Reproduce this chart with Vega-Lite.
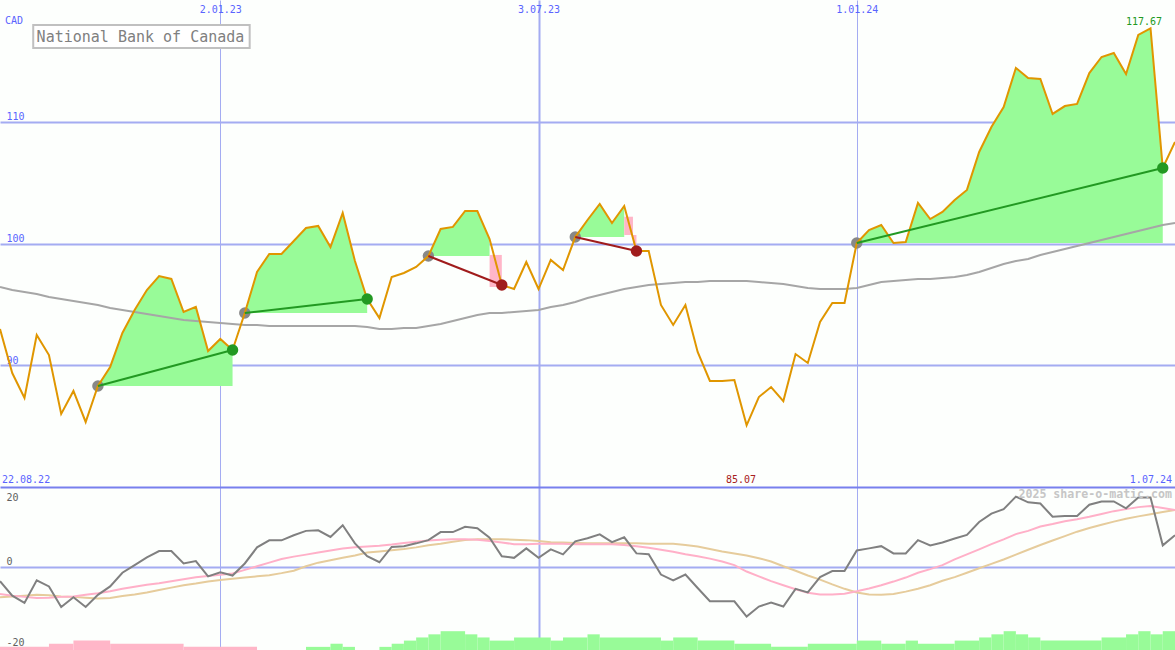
{
"$schema": "https://vega.github.io/schema/vega-lite/v6.json",
"background": "#fdfffd",
"padding": 0,
"spacing": 0,
"config": {"view": {"stroke": null}, "font": "DejaVu Sans Mono"},
"resolve": {"scale": {"x": "independent", "y": "independent", "color": "independent"}},
"datasets": {
"w": [
{"d":"2022-08-29","p":92.98,"ma":96.43,"m":-3.4,"pk":-6.6,"tn":-7.4},
{"d":"2022-09-05","p":89.36,"ma":96.18,"m":-7.0,"pk":-7.0,"tn":-7.2},
{"d":"2022-09-12","p":87.31,"ma":96.02,"m":-8.8,"pk":-7.3,"tn":-7.0},
{"d":"2022-09-19","p":92.48,"ma":95.85,"m":-3.2,"pk":-7.6,"tn":-6.8},
{"d":"2022-09-26","p":90.84,"ma":95.61,"m":-4.7,"pk":-7.5,"tn":-6.9},
{"d":"2022-10-03","p":86.00,"ma":95.44,"m":-9.8,"pk":-7.3,"tn":-7.2},
{"d":"2022-10-10","p":87.89,"ma":95.28,"m":-7.4,"pk":-7.2,"tn":-7.3},
{"d":"2022-10-17","p":85.34,"ma":95.11,"m":-9.8,"pk":-6.8,"tn":-7.5},
{"d":"2022-10-24","p":88.30,"ma":94.95,"m":-6.8,"pk":-6.4,"tn":-7.7,"tr":1,"b":88.30},
{"d":"2022-10-31","p":89.86,"ma":94.70,"m":-4.7,"pk":-5.9,"tn":-7.6,"tr":1,"b":88.30},
{"d":"2022-11-07","p":92.65,"ma":94.54,"m":-1.3,"pk":-5.3,"tn":-7.1,"tr":1,"b":88.30},
{"d":"2022-11-14","p":94.54,"ma":94.37,"m":0.6,"pk":-4.8,"tn":-6.7,"tr":1,"b":88.30},
{"d":"2022-11-21","p":96.18,"ma":94.21,"m":2.5,"pk":-4.3,"tn":-6.2,"tr":1,"b":88.30},
{"d":"2022-11-28","p":97.33,"ma":94.05,"m":4.1,"pk":-3.9,"tn":-5.6,"tr":1,"b":88.30},
{"d":"2022-12-05","p":97.09,"ma":93.88,"m":4.1,"pk":-3.4,"tn":-5.0,"tr":1,"b":88.30},
{"d":"2022-12-12","p":94.37,"ma":93.72,"m":1.0,"pk":-2.9,"tn":-4.4,"tr":1,"b":88.30},
{"d":"2022-12-19","p":94.79,"ma":93.63,"m":1.6,"pk":-2.4,"tn":-4.0,"tr":1,"b":88.30},
{"d":"2022-12-26","p":91.17,"ma":93.55,"m":-2.2,"pk":-2.1,"tn":-3.5,"tr":1,"b":88.30},
{"d":"2023-01-02","p":92.16,"ma":93.47,"m":-1.2,"pk":-1.8,"tn":-3.1,"tr":1,"b":88.30},
{"d":"2023-01-09","p":91.25,"ma":93.39,"m":-2.0,"pk":-1.5,"tn":-2.8,"tr":1,"b":88.30},
{"d":"2023-01-16","p":94.29,"ma":93.31,"m":1.0,"pk":-0.6,"tn":-2.5,"tr":2,"b":94.29},
{"d":"2023-01-23","p":97.66,"ma":93.31,"m":5.0,"pk":0.3,"tn":-2.2,"tr":2,"b":94.29},
{"d":"2023-01-30","p":99.14,"ma":93.22,"m":6.75,"pk":1.2,"tn":-1.9,"tr":2,"b":94.29},
{"d":"2023-02-06","p":99.14,"ma":93.22,"m":6.75,"pk":2.1,"tn":-1.4,"tr":2,"b":94.29},
{"d":"2023-02-13","p":100.21,"ma":93.22,"m":8.0,"pk":2.7,"tn":-0.8,"tr":2,"b":94.29},
{"d":"2023-02-20","p":101.27,"ma":93.22,"m":9.1,"pk":3.2,"tn":0.3,"tr":2,"b":94.29},
{"d":"2023-02-27","p":101.44,"ma":93.22,"m":9.25,"pk":3.7,"tn":1.2,"tr":2,"b":94.29},
{"d":"2023-03-06","p":99.71,"ma":93.22,"m":7.6,"pk":4.2,"tn":1.8,"tr":2,"b":94.29},
{"d":"2023-03-13","p":102.51,"ma":93.22,"m":10.5,"pk":4.7,"tn":2.4,"tr":2,"b":94.29},
{"d":"2023-03-20","p":98.56,"ma":93.22,"m":6.0,"pk":5.0,"tn":3.0,"tr":2,"b":94.29},
{"d":"2023-03-27","p":95.44,"ma":93.14,"m":2.8,"pk":5.2,"tn":3.7,"tr":2,"b":94.29},
{"d":"2023-04-03","p":93.88,"ma":92.98,"m":1.3,"pk":5.4,"tn":4.0},
{"d":"2023-04-10","p":97.25,"ma":92.98,"m":5.1,"pk":5.7,"tn":4.3},
{"d":"2023-04-17","p":97.58,"ma":93.06,"m":5.3,"pk":6.1,"tn":4.6},
{"d":"2023-04-24","p":98.07,"ma":93.06,"m":6.0,"pk":6.4,"tn":5.0},
{"d":"2023-05-01","p":98.97,"ma":93.22,"m":6.8,"pk":6.7,"tn":5.5,"tr":3,"b":98.97},
{"d":"2023-05-08","p":101.19,"ma":93.39,"m":8.8,"pk":6.9,"tn":5.9,"tr":3,"b":98.97},
{"d":"2023-05-15","p":101.36,"ma":93.63,"m":8.8,"pk":7.0,"tn":6.4,"tr":3,"b":98.97},
{"d":"2023-05-22","p":102.67,"ma":93.88,"m":10.1,"pk":7.0,"tn":6.8,"tr":3,"b":98.97},
{"d":"2023-05-29","p":102.67,"ma":94.13,"m":9.75,"pk":6.9,"tn":7.0,"tr":3,"b":98.97},
{"d":"2023-06-05","p":100.37,"ma":94.29,"m":7.4,"pk":6.6,"tn":7.0,"tr":3,"b":98.97},
{"d":"2023-06-12","p":96.59,"ma":94.29,"m":2.8,"pk":6.2,"tn":7.0},
{"d":"2023-06-19","p":96.26,"ma":94.37,"m":2.4,"pk":5.8,"tn":6.9},
{"d":"2023-06-26","p":98.48,"ma":94.46,"m":4.75,"pk":5.8,"tn":6.8},
{"d":"2023-07-03","p":96.26,"ma":94.54,"m":2.4,"pk":5.9,"tn":6.6},
{"d":"2023-07-10","p":98.65,"ma":94.78,"m":4.5,"pk":5.9,"tn":6.3},
{"d":"2023-07-17","p":97.82,"ma":94.95,"m":3.25,"pk":5.9,"tn":6.2},
{"d":"2023-07-24","p":100.53,"ma":95.20,"m":6.5,"pk":5.8,"tn":6.1,"tr":4,"b":100.53},
{"d":"2023-07-31","p":101.93,"ma":95.52,"m":7.25,"pk":5.8,"tn":6.0,"tr":4,"b":100.53},
{"d":"2023-08-07","p":103.25,"ma":95.77,"m":8.25,"pk":5.8,"tn":6.0,"tr":4,"b":100.53},
{"d":"2023-08-14","p":101.68,"ma":96.02,"m":6.3,"pk":5.8,"tn":6.0,"tr":4,"b":100.53},
{"d":"2023-08-21","p":103.08,"ma":96.26,"m":7.5,"pk":5.6,"tn":6.0,"tr":4,"b":100.53},
{"d":"2023-08-28","p":99.38,"ma":96.43,"m":3.5,"pk":5.3,"tn":6.0},
{"d":"2023-09-04","p":99.38,"ma":96.59,"m":3.3,"pk":4.9,"tn":5.9},
{"d":"2023-09-11","p":94.95,"ma":96.67,"m":-1.75,"pk":4.4,"tn":5.9},
{"d":"2023-09-18","p":93.31,"ma":96.76,"m":-3.2,"pk":3.9,"tn":5.9},
{"d":"2023-09-25","p":94.95,"ma":96.84,"m":-1.75,"pk":3.3,"tn":5.6},
{"d":"2023-10-02","p":91.09,"ma":96.84,"m":-5.1,"pk":2.8,"tn":5.2},
{"d":"2023-10-09","p":88.71,"ma":96.92,"m":-8.4,"pk":2.2,"tn":4.6},
{"d":"2023-10-16","p":88.71,"ma":96.92,"m":-8.4,"pk":1.5,"tn":4.0},
{"d":"2023-10-23","p":88.79,"ma":96.92,"m":-8.4,"pk":0.6,"tn":3.5},
{"d":"2023-10-30","p":85.07,"ma":96.92,"m":-12.2,"pk":-1.0,"tn":3.0},
{"d":"2023-11-06","p":87.39,"ma":96.84,"m":-9.7,"pk":-2.2,"tn":2.3},
{"d":"2023-11-13","p":88.21,"ma":96.76,"m":-8.7,"pk":-3.4,"tn":1.5},
{"d":"2023-11-20","p":87.06,"ma":96.67,"m":-9.7,"pk":-4.4,"tn":0.3},
{"d":"2023-11-27","p":90.92,"ma":96.51,"m":-5.3,"pk":-5.4,"tn":-0.8},
{"d":"2023-12-04","p":90.19,"ma":96.35,"m":-6.2,"pk":-6.3,"tn":-2.0},
{"d":"2023-12-11","p":93.55,"ma":96.26,"m":-2.4,"pk":-6.7,"tn":-3.0},
{"d":"2023-12-18","p":95.11,"ma":96.26,"m":-0.9,"pk":-6.7,"tn":-4.2},
{"d":"2023-12-25","p":95.11,"ma":96.26,"m":-0.9,"pk":-6.5,"tn":-5.3},
{"d":"2024-01-01","p":100.04,"ma":96.35,"m":4.25,"pk":-5.9,"tn":-6.2,"tr":5,"b":100.04},
{"d":"2024-01-08","p":101.11,"ma":96.59,"m":4.75,"pk":-5.2,"tn":-6.7,"tr":5,"b":100.04},
{"d":"2024-01-15","p":101.52,"ma":96.84,"m":5.3,"pk":-4.4,"tn":-6.8,"tr":5,"b":100.04},
{"d":"2024-01-22","p":100.04,"ma":96.92,"m":3.5,"pk":-3.5,"tn":-6.6,"tr":5,"b":100.04},
{"d":"2024-01-29","p":100.12,"ma":97.00,"m":3.5,"pk":-2.5,"tn":-6.0,"tr":5,"b":100.04},
{"d":"2024-02-05","p":103.33,"ma":97.08,"m":6.8,"pk":-1.3,"tn":-5.3,"tr":5,"b":100.04},
{"d":"2024-02-12","p":102.01,"ma":97.08,"m":5.5,"pk":-0.4,"tn":-4.4,"tr":5,"b":100.04},
{"d":"2024-02-19","p":102.59,"ma":97.17,"m":6.2,"pk":0.6,"tn":-3.3,"tr":5,"b":100.04},
{"d":"2024-02-26","p":103.57,"ma":97.25,"m":7.2,"pk":2.0,"tn":-2.4,"tr":5,"b":100.04},
{"d":"2024-03-04","p":104.40,"ma":97.41,"m":8.1,"pk":3.25,"tn":-1.3,"tr":5,"b":100.04},
{"d":"2024-03-11","p":107.52,"ma":97.66,"m":11.3,"pk":4.5,"tn":-0.2,"tr":5,"b":100.04},
{"d":"2024-03-18","p":109.57,"ma":97.99,"m":13.4,"pk":5.8,"tn":0.9,"tr":5,"b":100.04},
{"d":"2024-03-25","p":111.21,"ma":98.32,"m":14.5,"pk":7.0,"tn":2.0,"tr":5,"b":100.04},
{"d":"2024-04-01","p":114.42,"ma":98.56,"m":17.6,"pk":8.3,"tn":3.2,"tr":5,"b":100.04},
{"d":"2024-04-08","p":113.59,"ma":98.73,"m":16.2,"pk":9.1,"tn":4.4,"tr":5,"b":100.04},
{"d":"2024-04-15","p":113.51,"ma":99.06,"m":15.9,"pk":10.2,"tn":5.6,"tr":5,"b":100.04},
{"d":"2024-04-22","p":110.64,"ma":99.30,"m":12.6,"pk":10.8,"tn":6.7,"tr":5,"b":100.04},
{"d":"2024-04-29","p":111.29,"ma":99.55,"m":12.8,"pk":11.5,"tn":7.8,"tr":5,"b":100.04},
{"d":"2024-05-06","p":111.46,"ma":99.80,"m":12.8,"pk":12.0,"tn":8.9,"tr":5,"b":100.04},
{"d":"2024-05-13","p":114.00,"ma":100.04,"m":15.6,"pk":12.6,"tn":9.8,"tr":5,"b":100.04},
{"d":"2024-05-20","p":115.32,"ma":100.29,"m":16.4,"pk":13.3,"tn":10.6,"tr":5,"b":100.04},
{"d":"2024-05-27","p":115.65,"ma":100.53,"m":16.4,"pk":14.0,"tn":11.4,"tr":5,"b":100.04},
{"d":"2024-06-03","p":113.92,"ma":100.78,"m":14.7,"pk":14.5,"tn":12.1,"tr":5,"b":100.04},
{"d":"2024-06-10","p":117.13,"ma":101.03,"m":17.4,"pk":15.0,"tn":12.7,"tr":5,"b":100.04},
{"d":"2024-06-17","p":117.67,"ma":101.27,"m":17.4,"pk":15.3,"tn":13.25,"tr":5,"b":100.04},
{"d":"2024-06-24","p":106.20,"ma":101.52,"m":5.5,"pk":14.8,"tn":13.8,"tr":5,"b":100.04},
{"d":"2024-07-01","p":108.34,"ma":101.68,"m":8.0,"pk":14.3,"tn":14.3}
],
"trades": [
{"d1":"2022-10-24","p1":88.30,"d2":"2023-01-09","p2":91.25,"res":"win"},
{"d1":"2023-01-16","p1":94.29,"d2":"2023-03-27","p2":95.44,"res":"win"},
{"d1":"2023-05-01","p1":98.97,"d2":"2023-06-12","p2":96.59,"res":"loss"},
{"d1":"2023-07-24","p1":100.53,"d2":"2023-08-28","p2":99.38,"res":"loss"},
{"d1":"2024-01-01","p1":100.04,"d2":"2024-06-24","p2":106.20,"res":"win"}
],
"pink": [
{"s":"2023-06-05","e":"2023-06-12","hi":99.06,"lo":96.43},
{"s":"2023-08-21","e":"2023-08-26","hi":102.2,"lo":100.7},
{"s":"2023-08-26","e":"2023-08-28","hi":100.7,"lo":99.9}
],
"bars": [
{"s":"2022-08-29","e":"2022-09-26","h":1,"c":"n"},
{"s":"2022-09-26","e":"2022-10-10","h":2,"c":"n"},
{"s":"2022-10-10","e":"2022-10-31","h":3,"c":"n"},
{"s":"2022-10-31","e":"2022-12-12","h":2,"c":"n"},
{"s":"2022-12-12","e":"2023-01-23","h":1,"c":"n"},
{"s":"2023-02-20","e":"2023-03-06","h":1,"c":"p"},
{"s":"2023-03-06","e":"2023-03-13","h":2,"c":"p"},
{"s":"2023-03-13","e":"2023-03-20","h":1,"c":"p"},
{"s":"2023-04-03","e":"2023-04-10","h":1,"c":"p"},
{"s":"2023-04-10","e":"2023-04-17","h":2,"c":"p"},
{"s":"2023-04-17","e":"2023-04-24","h":3,"c":"p"},
{"s":"2023-04-24","e":"2023-05-01","h":4,"c":"p"},
{"s":"2023-05-01","e":"2023-05-08","h":5,"c":"p"},
{"s":"2023-05-08","e":"2023-05-22","h":6,"c":"p"},
{"s":"2023-05-22","e":"2023-05-29","h":5,"c":"p"},
{"s":"2023-05-29","e":"2023-06-05","h":4,"c":"p"},
{"s":"2023-06-05","e":"2023-06-19","h":3,"c":"p"},
{"s":"2023-06-19","e":"2023-07-10","h":4,"c":"p"},
{"s":"2023-07-10","e":"2023-07-17","h":3,"c":"p"},
{"s":"2023-07-17","e":"2023-07-31","h":4,"c":"p"},
{"s":"2023-07-31","e":"2023-08-07","h":5,"c":"p"},
{"s":"2023-08-07","e":"2023-09-11","h":4,"c":"p"},
{"s":"2023-09-11","e":"2023-09-18","h":3,"c":"p"},
{"s":"2023-09-18","e":"2023-10-02","h":4,"c":"p"},
{"s":"2023-10-02","e":"2023-10-23","h":3,"c":"p"},
{"s":"2023-10-23","e":"2023-11-13","h":2,"c":"p"},
{"s":"2023-11-13","e":"2023-12-04","h":1,"c":"p"},
{"s":"2023-12-04","e":"2024-01-01","h":2,"c":"p"},
{"s":"2024-01-01","e":"2024-01-15","h":3,"c":"p"},
{"s":"2024-01-15","e":"2024-01-29","h":2,"c":"p"},
{"s":"2024-01-29","e":"2024-02-05","h":3,"c":"p"},
{"s":"2024-02-05","e":"2024-02-26","h":2,"c":"p"},
{"s":"2024-02-26","e":"2024-03-11","h":3,"c":"p"},
{"s":"2024-03-11","e":"2024-03-18","h":4,"c":"p"},
{"s":"2024-03-18","e":"2024-03-25","h":5,"c":"p"},
{"s":"2024-03-25","e":"2024-04-01","h":6,"c":"p"},
{"s":"2024-04-01","e":"2024-04-08","h":5,"c":"p"},
{"s":"2024-04-08","e":"2024-04-15","h":4,"c":"p"},
{"s":"2024-04-15","e":"2024-05-20","h":3,"c":"p"},
{"s":"2024-05-20","e":"2024-06-03","h":4,"c":"p"},
{"s":"2024-06-03","e":"2024-06-10","h":5,"c":"p"},
{"s":"2024-06-10","e":"2024-06-17","h":6,"c":"p"},
{"s":"2024-06-17","e":"2024-06-24","h":5,"c":"p"},
{"s":"2024-06-24","e":"2024-07-08","h":6,"c":"p"}
]
},
"vconcat": [
{
"width": 1175, "height": 487,
"layer": [
{"data": {"name": "w"}, "transform": [{"filter": "isValid(datum.tr)"}],
 "mark": {"type": "area", "color": "#98fb98", "opacity": 1, "clip": true},
 "encoding": {
  "x": {"field": "d", "type": "temporal", "title": null, "scale": {"type": "utc", "domain": [{"year":2022,"month":8,"date":29,"utc":true},{"year":2024,"month":7,"date":1,"utc":true}]},
   "axis": {"orient": "top", "values": [{"year":2023,"month":1,"date":2,"utc":true},{"year":2023,"month":7,"date":3,"utc":true},{"year":2024,"month":1,"date":1,"utc":true}], "grid": true, "gridColor": "#a4acf2", "gridWidth": {"condition": {"test": "utcmonth(datum.value) == 6", "value": 2}, "value": 1}, "domain": false, "ticks": false, "labelExpr": "utcFormat(datum.value, '%-d.%m.%y')", "labelColor": "#5a64ff", "labelFont": "DejaVu Sans Mono", "labelFontSize": 10, "labelPadding": -12, "labelBaseline": "alphabetic", "labelFlush": false}},
  "y": {"field": "p", "type": "quantitative", "title": null, "scale": {"domain": [80, 120], "nice": false, "zero": false},
   "axis": {"orient": "left", "values": [90, 100, 110], "grid": true, "gridColor": "#a4acf2", "gridWidth": 2, "domain": false, "ticks": false, "labelAlign": "left", "labelBaseline": "alphabetic", "labelPadding": -6, "labelOffset": -2, "labelColor": "#5a64ff", "labelFont": "DejaVu Sans Mono", "labelFontSize": 10}},
  "y2": {"field": "b"},
  "detail": {"field": "tr", "type": "nominal"}
 }},
{"data": {"name": "pink"}, "mark": {"type": "rect", "color": "#ffb6c8"},
 "encoding": {
  "x": {"field": "s", "type": "temporal", "title": null},
  "x2": {"field": "e"},
  "y": {"field": "hi", "type": "quantitative", "title": null},
  "y2": {"field": "lo"}
 }},
{"data": {"name": "w"}, "mark": {"type": "line", "color": "#a6a6a6", "strokeWidth": 2, "clip": true},
 "encoding": {
  "x": {"field": "d", "type": "temporal", "title": null},
  "y": {"field": "ma", "type": "quantitative", "title": null}
 }},
{"data": {"name": "trades"}, "mark": {"type": "point", "filled": true, "shape": "circle", "color": "#888888", "size": 130, "opacity": 1},
 "encoding": {
  "x": {"field": "d1", "type": "temporal", "title": null},
  "y": {"field": "p1", "type": "quantitative", "title": null}
 }},
{"data": {"name": "w"}, "mark": {"type": "line", "color": "#e09600", "strokeWidth": 2, "clip": true},
 "encoding": {
  "x": {"field": "d", "type": "temporal", "title": null},
  "y": {"field": "p", "type": "quantitative", "title": null}
 }},
{"data": {"name": "trades"}, "mark": {"type": "rule", "strokeWidth": 2},
 "encoding": {
  "x": {"field": "d1", "type": "temporal", "title": null},
  "x2": {"field": "d2"},
  "y": {"field": "p1", "type": "quantitative", "title": null},
  "y2": {"field": "p2"},
  "color": {"field": "res", "type": "nominal", "scale": {"domain": ["win", "loss"], "range": ["#229922", "#a01c1c"]}, "legend": null}
 }},
{"data": {"name": "trades"}, "mark": {"type": "point", "filled": true, "shape": "circle", "size": 130, "opacity": 1},
 "encoding": {
  "x": {"field": "d2", "type": "temporal", "title": null},
  "y": {"field": "p2", "type": "quantitative", "title": null},
  "color": {"field": "res", "type": "nominal", "legend": null}
 }},
{"data": {"values": [{}]}, "mark": {"type": "text", "text": "CAD", "align": "left", "baseline": "top", "dx": 5, "dy": 16, "fontSize": 10, "font": "DejaVu Sans Mono", "color": "#5a64ff"},
 "encoding": {
  "x": {"datum": {"year":2022,"month":8,"date":29,"utc":true}, "type": "temporal"},
  "y": {"datum": 120, "type": "quantitative"}
 }},
{"data": {"values": [{}]}, "mark": {"type": "rect", "fill": "#ffffff", "stroke": "#c0c0c0", "strokeWidth": 2},
 "encoding": {
  "x": {"datum": {"year":2022,"month":9,"date":17,"utc":true}, "type": "temporal"},
  "x2": {"datum": {"year":2023,"month":1,"date":18,"hours":19,"utc":true}},
  "y": {"datum": 117.95, "type": "quantitative"},
  "y2": {"datum": 116.06}
 }},
{"data": {"values": [{}]}, "mark": {"type": "text", "text": "National Bank of Canada", "align": "center", "baseline": "middle", "fontSize": 15, "font": "DejaVu Sans Mono", "color": "#808080"},
 "encoding": {
  "x": {"datum": {"year":2022,"month":11,"date":17,"hours":8,"utc":true}, "type": "temporal"},
  "y": {"datum": 117.0, "type": "quantitative"}
 }},
{"data": {"values": [{}]}, "mark": {"type": "text", "text": "117.67", "align": "center", "baseline": "alphabetic", "dy": -3, "fontSize": 10, "font": "DejaVu Sans Mono", "color": "#229922"},
 "encoding": {
  "x": {"datum": {"year":2024,"month":6,"date":13,"hours":7,"utc":true}, "type": "temporal"},
  "y": {"datum": 117.67, "type": "quantitative"}
 }},
{"data": {"values": [{}]}, "mark": {"type": "text", "text": "85.07", "align": "center", "baseline": "alphabetic", "dy": -4, "fontSize": 10, "font": "DejaVu Sans Mono", "color": "#a82020"},
 "encoding": {
  "x": {"datum": {"year":2023,"month":10,"date":26,"hours":19,"utc":true}, "type": "temporal"},
  "y": {"datum": 80, "type": "quantitative"}
 }},
{"data": {"values": [{}]}, "mark": {"type": "text", "text": "22.08.22", "align": "left", "baseline": "alphabetic", "dx": 2, "dy": -4, "fontSize": 10, "font": "DejaVu Sans Mono", "color": "#5a64ff"},
 "encoding": {
  "x": {"datum": {"year":2022,"month":8,"date":29,"utc":true}, "type": "temporal"},
  "y": {"datum": 80, "type": "quantitative"}
 }},
{"data": {"values": [{}]}, "mark": {"type": "text", "text": "1.07.24", "align": "right", "baseline": "alphabetic", "dx": -3, "dy": -4, "fontSize": 10, "font": "DejaVu Sans Mono", "color": "#5a64ff"},
 "encoding": {
  "x": {"datum": {"year":2024,"month":7,"date":1,"utc":true}, "type": "temporal"},
  "y": {"datum": 80, "type": "quantitative"}
 }}
]
},
{
"width": 1175, "height": 163,
"resolve": {"scale": {"y": "independent"}},
"layer": [
{"layer": [
{"data": {"name": "w"}, "mark": {"type": "line", "color": "#e6cc9c", "strokeWidth": 2, "clip": true},
 "encoding": {
  "x": {"field": "d", "type": "temporal", "title": null, "scale": {"type": "utc", "domain": [{"year":2022,"month":8,"date":29,"utc":true},{"year":2024,"month":7,"date":1,"utc":true}]},
   "axis": {"orient": "top", "values": [{"year":2023,"month":1,"date":2,"utc":true},{"year":2023,"month":7,"date":3,"utc":true},{"year":2024,"month":1,"date":1,"utc":true}], "grid": true, "gridColor": "#a4acf2", "gridWidth": {"condition": {"test": "utcmonth(datum.value) == 6", "value": 2}, "value": 1}, "domain": false, "ticks": false, "labels": false}},
  "y": {"field": "tn", "type": "quantitative", "title": null, "scale": {"domain": [-20.5, 20], "nice": false, "zero": false},
   "axis": {"orient": "left", "values": [-20, 0, 20], "grid": true, "gridColor": {"condition": {"test": "datum.value == 20", "value": "#7880ee"}, "value": "#a4acf2"}, "gridWidth": 2, "gridOpacity": {"condition": {"test": "datum.value == -20", "value": 0}, "value": 1}, "domain": false, "ticks": false, "labelExpr": "datum.value < 0 ? '-' + abs(datum.value) : '' + datum.value", "labelAlign": "left", "labelBaseline": "alphabetic", "labelPadding": -6, "labelOffset": {"condition": {"test": "datum.value == 20", "value": 13}, "value": -2.5}, "labelColor": "#606060", "labelFont": "DejaVu Sans Mono", "labelFontSize": 10}}
 }},
{"data": {"name": "w"}, "mark": {"type": "line", "color": "#ffb0c8", "strokeWidth": 2, "clip": true},
 "encoding": {
  "x": {"field": "d", "type": "temporal", "title": null},
  "y": {"field": "pk", "type": "quantitative", "title": null}
 }},
{"data": {"name": "w"}, "mark": {"type": "line", "color": "#808080", "strokeWidth": 2, "clip": true},
 "encoding": {
  "x": {"field": "d", "type": "temporal", "title": null},
  "y": {"field": "m", "type": "quantitative", "title": null}
 }},
{"data": {"values": [{}]}, "mark": {"type": "text", "text": "2025 share-o-matic.com", "align": "right", "baseline": "top", "dx": -3, "dy": 2, "fontSize": 11.6, "fontWeight": "bold", "font": "DejaVu Sans Mono", "color": "#c6c6c6"},
 "encoding": {
  "x": {"datum": {"year":2024,"month":7,"date":1,"utc":true}, "type": "temporal"},
  "y": {"datum": 20, "type": "quantitative"}
 }}
]},
{"data": {"name": "bars"}, "mark": {"type": "rect", "clip": true},
 "encoding": {
  "x": {"field": "s", "type": "temporal", "title": null},
  "x2": {"field": "e"},
  "y": {"field": "h", "type": "quantitative", "title": null, "scale": {"domain": [0, 52], "nice": false}, "axis": null},
  "y2": {"datum": 0},
  "color": {"field": "c", "type": "nominal", "scale": {"domain": ["n", "p"], "range": ["#ffb6c8", "#98fb98"]}, "legend": null}
 }}
]
}
]
}
